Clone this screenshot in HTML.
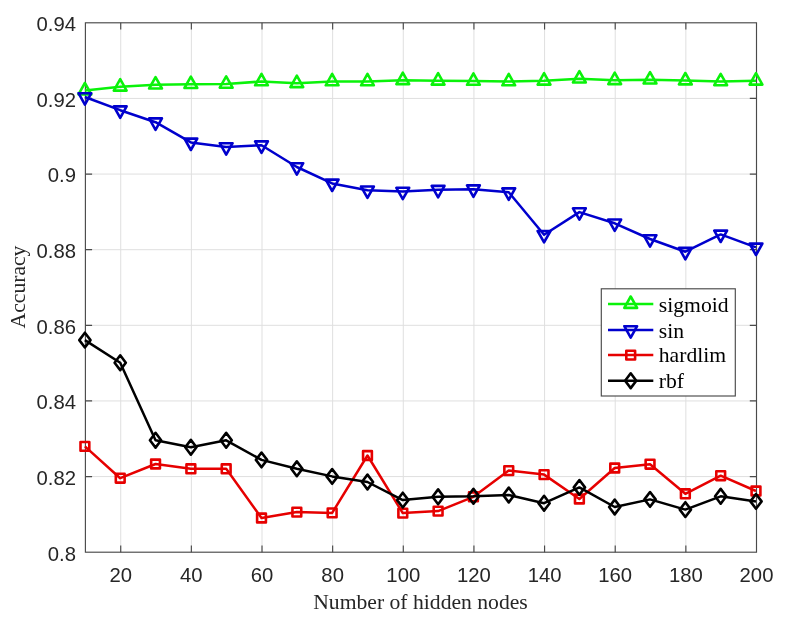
<!DOCTYPE html>
<html><head><meta charset="utf-8"><title>Accuracy vs hidden nodes</title>
<style>html,body{margin:0;padding:0;background:#fff;overflow:hidden}svg{display:block}</style></head>
<body>
<svg width="790" height="628" viewBox="0 0 790 628">
<rect width="790" height="628" fill="#fff"/>
<path d="M120.72 22.8V552.2M191.36 22.8V552.2M262.01 22.8V552.2M332.65 22.8V552.2M403.29 22.8V552.2M473.93 22.8V552.2M544.57 22.8V552.2M615.22 22.8V552.2M685.86 22.8V552.2M85.4 476.57H756.5M85.4 400.94H756.5M85.4 325.31H756.5M85.4 249.69H756.5M85.4 174.06H756.5M85.4 98.43H756.5" stroke="#dfdfdf" stroke-width="1" fill="none"/>
<rect x="85.4" y="22.8" width="671.1" height="529.4000000000001" fill="none" stroke="#4a4a4a" stroke-width="1.15"/>
<path d="M120.72 552.2v-6.7M120.72 22.8v6.7M191.36 552.2v-6.7M191.36 22.8v6.7M262.01 552.2v-6.7M262.01 22.8v6.7M332.65 552.2v-6.7M332.65 22.8v6.7M403.29 552.2v-6.7M403.29 22.8v6.7M473.93 552.2v-6.7M473.93 22.8v6.7M544.57 552.2v-6.7M544.57 22.8v6.7M615.22 552.2v-6.7M615.22 22.8v6.7M685.86 552.2v-6.7M685.86 22.8v6.7M85.4 476.57h6.7M756.5 476.57h-6.7M85.4 400.94h6.7M756.5 400.94h-6.7M85.4 325.31h6.7M756.5 325.31h-6.7M85.4 249.69h6.7M756.5 249.69h-6.7M85.4 174.06h6.7M756.5 174.06h-6.7M85.4 98.43h6.7M756.5 98.43h-6.7" stroke="#4a4a4a" stroke-width="1.15" fill="none"/>
<g font-family="Liberation Sans, Arial, sans-serif" font-size="20.3" fill="#262626">
<text x="120.72" y="581.6" text-anchor="middle">20</text>
<text x="191.36" y="581.6" text-anchor="middle">40</text>
<text x="262.01" y="581.6" text-anchor="middle">60</text>
<text x="332.65" y="581.6" text-anchor="middle">80</text>
<text x="403.29" y="581.6" text-anchor="middle">100</text>
<text x="473.93" y="581.6" text-anchor="middle">120</text>
<text x="544.57" y="581.6" text-anchor="middle">140</text>
<text x="615.22" y="581.6" text-anchor="middle">160</text>
<text x="685.86" y="581.6" text-anchor="middle">180</text>
<text x="756.50" y="581.6" text-anchor="middle">200</text>
<text x="76" y="560.50" text-anchor="end">0.8</text>
<text x="76" y="484.87" text-anchor="end">0.82</text>
<text x="76" y="409.24" text-anchor="end">0.84</text>
<text x="76" y="333.61" text-anchor="end">0.86</text>
<text x="76" y="257.99" text-anchor="end">0.88</text>
<text x="76" y="182.36" text-anchor="end">0.9</text>
<text x="76" y="106.73" text-anchor="end">0.92</text>
<text x="76" y="31.10" text-anchor="end">0.94</text>
</g>
<g font-family="Liberation Serif, Times New Roman, serif" font-size="21.65" fill="#262626">
<text x="420.5" y="608.7" text-anchor="middle">Number of hidden nodes</text>
<text transform="translate(25.4 287) rotate(-90)" text-anchor="middle">Accuracy</text>
</g>
<path d="M84.90 90.60L120.22 86.80L155.54 84.70L190.86 84.20L226.18 83.90L261.51 81.50L296.83 83.30L332.15 81.50L367.47 81.50L402.79 80.30L438.11 80.80L473.43 81.00L508.75 81.50L544.07 80.80L579.39 78.70L614.72 80.30L650.04 79.70L685.36 80.60L720.68 81.40L756.00 80.80" stroke="#0af20a" stroke-width="2.5" fill="none" stroke-linejoin="round"/>
<path d="M78.50 94.40L91.30 94.40L84.90 83.00ZM113.82 90.60L126.62 90.60L120.22 79.20ZM149.14 88.50L161.94 88.50L155.54 77.10ZM184.46 88.00L197.26 88.00L190.86 76.60ZM219.78 87.70L232.58 87.70L226.18 76.30ZM255.11 85.30L267.91 85.30L261.51 73.90ZM290.43 87.10L303.23 87.10L296.83 75.70ZM325.75 85.30L338.55 85.30L332.15 73.90ZM361.07 85.30L373.87 85.30L367.47 73.90ZM396.39 84.10L409.19 84.10L402.79 72.70ZM431.71 84.60L444.51 84.60L438.11 73.20ZM467.03 84.80L479.83 84.80L473.43 73.40ZM502.35 85.30L515.15 85.30L508.75 73.90ZM537.67 84.60L550.47 84.60L544.07 73.20ZM572.99 82.50L585.79 82.50L579.39 71.10ZM608.32 84.10L621.12 84.10L614.72 72.70ZM643.64 83.50L656.44 83.50L650.04 72.10ZM678.96 84.40L691.76 84.40L685.36 73.00ZM714.28 85.20L727.08 85.20L720.68 73.80ZM749.60 84.60L762.40 84.60L756.00 73.20Z" stroke="#0af20a" stroke-width="2.6" fill="none" stroke-linejoin="round"/>
<path d="M84.90 97.00L120.22 110.20L155.54 122.20L190.86 142.40L226.18 147.00L261.51 145.20L296.83 167.00L332.15 183.40L367.47 190.30L402.79 191.60L438.11 189.70L473.43 189.20L508.75 192.20L544.07 234.80L579.39 212.10L614.72 223.30L650.04 239.00L685.36 251.70L720.68 234.40L756.00 247.40" stroke="#0000cd" stroke-width="2.5" fill="none" stroke-linejoin="round"/>
<path d="M78.50 93.20L91.30 93.20L84.90 104.60ZM113.82 106.40L126.62 106.40L120.22 117.80ZM149.14 118.40L161.94 118.40L155.54 129.80ZM184.46 138.60L197.26 138.60L190.86 150.00ZM219.78 143.20L232.58 143.20L226.18 154.60ZM255.11 141.40L267.91 141.40L261.51 152.80ZM290.43 163.20L303.23 163.20L296.83 174.60ZM325.75 179.60L338.55 179.60L332.15 191.00ZM361.07 186.50L373.87 186.50L367.47 197.90ZM396.39 187.80L409.19 187.80L402.79 199.20ZM431.71 185.90L444.51 185.90L438.11 197.30ZM467.03 185.40L479.83 185.40L473.43 196.80ZM502.35 188.40L515.15 188.40L508.75 199.80ZM537.67 231.00L550.47 231.00L544.07 242.40ZM572.99 208.30L585.79 208.30L579.39 219.70ZM608.32 219.50L621.12 219.50L614.72 230.90ZM643.64 235.20L656.44 235.20L650.04 246.60ZM678.96 247.90L691.76 247.90L685.36 259.30ZM714.28 230.60L727.08 230.60L720.68 242.00ZM749.60 243.60L762.40 243.60L756.00 255.00Z" stroke="#0000cd" stroke-width="2.6" fill="none" stroke-linejoin="round"/>
<path d="M84.90 446.40L120.22 478.20L155.54 464.00L190.86 468.80L226.18 468.80L261.51 518.00L296.83 512.10L332.15 512.90L367.47 455.50L402.79 513.10L438.11 511.10L473.43 496.80L508.75 470.60L544.07 474.60L579.39 499.00L614.72 468.00L650.04 464.20L685.36 493.80L720.68 475.70L756.00 491.00" stroke="#e60000" stroke-width="2.5" fill="none" stroke-linejoin="round"/>
<path d="M80.50 442.00h8.8v8.8h-8.8ZM115.82 473.80h8.8v8.8h-8.8ZM151.14 459.60h8.8v8.8h-8.8ZM186.46 464.40h8.8v8.8h-8.8ZM221.78 464.40h8.8v8.8h-8.8ZM257.11 513.60h8.8v8.8h-8.8ZM292.43 507.70h8.8v8.8h-8.8ZM327.75 508.50h8.8v8.8h-8.8ZM363.07 451.10h8.8v8.8h-8.8ZM398.39 508.70h8.8v8.8h-8.8ZM433.71 506.70h8.8v8.8h-8.8ZM469.03 492.40h8.8v8.8h-8.8ZM504.35 466.20h8.8v8.8h-8.8ZM539.67 470.20h8.8v8.8h-8.8ZM574.99 494.60h8.8v8.8h-8.8ZM610.32 463.60h8.8v8.8h-8.8ZM645.64 459.80h8.8v8.8h-8.8ZM680.96 489.40h8.8v8.8h-8.8ZM716.28 471.30h8.8v8.8h-8.8ZM751.60 486.60h8.8v8.8h-8.8Z" stroke="#e60000" stroke-width="2.6" fill="none" stroke-linejoin="round"/>
<path d="M84.90 340.10L120.22 362.70L155.54 440.20L190.86 447.30L226.18 440.30L261.51 459.90L296.83 468.80L332.15 476.40L367.47 482.00L402.79 500.10L438.11 496.80L473.43 496.30L508.75 495.00L544.07 503.20L579.39 487.40L614.72 507.00L650.04 499.40L685.36 509.60L720.68 496.30L756.00 501.40" stroke="#000000" stroke-width="2.5" fill="none" stroke-linejoin="round"/>
<path d="M79.30 340.10L84.90 332.70L90.50 340.10L84.90 347.50ZM114.62 362.70L120.22 355.30L125.82 362.70L120.22 370.10ZM149.94 440.20L155.54 432.80L161.14 440.20L155.54 447.60ZM185.26 447.30L190.86 439.90L196.46 447.30L190.86 454.70ZM220.58 440.30L226.18 432.90L231.78 440.30L226.18 447.70ZM255.91 459.90L261.51 452.50L267.11 459.90L261.51 467.30ZM291.23 468.80L296.83 461.40L302.43 468.80L296.83 476.20ZM326.55 476.40L332.15 469.00L337.75 476.40L332.15 483.80ZM361.87 482.00L367.47 474.60L373.07 482.00L367.47 489.40ZM397.19 500.10L402.79 492.70L408.39 500.10L402.79 507.50ZM432.51 496.80L438.11 489.40L443.71 496.80L438.11 504.20ZM467.83 496.30L473.43 488.90L479.03 496.30L473.43 503.70ZM503.15 495.00L508.75 487.60L514.35 495.00L508.75 502.40ZM538.47 503.20L544.07 495.80L549.67 503.20L544.07 510.60ZM573.79 487.40L579.39 480.00L584.99 487.40L579.39 494.80ZM609.12 507.00L614.72 499.60L620.32 507.00L614.72 514.40ZM644.44 499.40L650.04 492.00L655.64 499.40L650.04 506.80ZM679.76 509.60L685.36 502.20L690.96 509.60L685.36 517.00ZM715.08 496.30L720.68 488.90L726.28 496.30L720.68 503.70ZM750.40 501.40L756.00 494.00L761.60 501.40L756.00 508.80Z" stroke="#000000" stroke-width="2.6" fill="none" stroke-linejoin="round"/>
<rect x="601.3" y="288.8" width="134" height="107.2" fill="#fff" stroke="#4a4a4a" stroke-width="1.15"/>
<g font-family="Liberation Serif, Times New Roman, serif" font-size="21.65" fill="#000">
<path d="M608 304.1H653.3" stroke="#0af20a" stroke-width="2.5" fill="none"/>
<path d="M624.30 307.90L637.10 307.90L630.70 296.50Z" stroke="#0af20a" stroke-width="2.6" fill="none" stroke-linejoin="round"/>
<text x="658.8" y="311.60">sigmoid</text>
<path d="M608 330.0H653.3" stroke="#0000cd" stroke-width="2.5" fill="none"/>
<path d="M624.30 326.20L637.10 326.20L630.70 337.60Z" stroke="#0000cd" stroke-width="2.6" fill="none" stroke-linejoin="round"/>
<text x="658.8" y="337.70">sin</text>
<path d="M608 355.1H653.3" stroke="#e60000" stroke-width="2.5" fill="none"/>
<path d="M626.30 350.70h8.8v8.8h-8.8Z" stroke="#e60000" stroke-width="2.6" fill="none" stroke-linejoin="round"/>
<text x="658.8" y="362.40">hardlim</text>
<path d="M608 380.7H653.3" stroke="#000000" stroke-width="2.5" fill="none"/>
<path d="M625.10 380.70L630.70 373.30L636.30 380.70L630.70 388.10Z" stroke="#000000" stroke-width="2.6" fill="none" stroke-linejoin="round"/>
<text x="658.8" y="388.00">rbf</text>
</g>
</svg>
</body></html>
